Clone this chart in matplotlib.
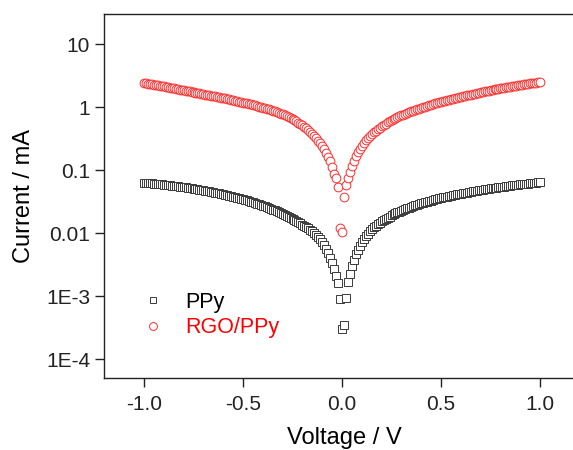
import matplotlib
matplotlib.use('agg')
import matplotlib.pyplot as plt
from matplotlib.ticker import FixedLocator, FixedFormatter, NullLocator

# Voltage sweep (V)
voltage = [
	-1.00, -0.99, -0.98, -0.97, -0.96, -0.95, -0.94, -0.93, -0.92, -0.91,
	-0.90, -0.89, -0.88, -0.87, -0.86, -0.85, -0.84, -0.83, -0.82, -0.81,
	-0.80, -0.79, -0.78, -0.77, -0.76, -0.75, -0.74, -0.73, -0.72, -0.71,
	-0.70, -0.69, -0.68, -0.67, -0.66, -0.65, -0.64, -0.63, -0.62, -0.61,
	-0.60, -0.59, -0.58, -0.57, -0.56, -0.55, -0.54, -0.53, -0.52, -0.51,
	-0.50, -0.49, -0.48, -0.47, -0.46, -0.45, -0.44, -0.43, -0.42, -0.41,
	-0.40, -0.39, -0.38, -0.37, -0.36, -0.35, -0.34, -0.33, -0.32, -0.31,
	-0.30, -0.29, -0.28, -0.27, -0.26, -0.25, -0.24, -0.23, -0.22, -0.21,
	-0.20, -0.19, -0.18, -0.17, -0.16, -0.15, -0.14, -0.13, -0.12, -0.11,
	-0.10, -0.09, -0.08, -0.07, -0.06, -0.05, -0.04, -0.03, -0.02, -0.01,
	0.00,
	0.01, 0.02, 0.03, 0.04, 0.05, 0.06, 0.07, 0.08, 0.09, 0.10,
	0.11, 0.12, 0.13, 0.14, 0.15, 0.16, 0.17, 0.18, 0.19, 0.20,
	0.21, 0.22, 0.23, 0.24, 0.25, 0.26, 0.27, 0.28, 0.29, 0.30,
	0.31, 0.32, 0.33, 0.34, 0.35, 0.36, 0.37, 0.38, 0.39, 0.40,
	0.41, 0.42, 0.43, 0.44, 0.45, 0.46, 0.47, 0.48, 0.49, 0.50,
	0.51, 0.52, 0.53, 0.54, 0.55, 0.56, 0.57, 0.58, 0.59, 0.60,
	0.61, 0.62, 0.63, 0.64, 0.65, 0.66, 0.67, 0.68, 0.69, 0.70,
	0.71, 0.72, 0.73, 0.74, 0.75, 0.76, 0.77, 0.78, 0.79, 0.80,
	0.81, 0.82, 0.83, 0.84, 0.85, 0.86, 0.87, 0.88, 0.89, 0.90,
	0.91, 0.92, 0.93, 0.94, 0.95, 0.96, 0.97, 0.98, 0.99, 1.00,
]

# Current (mA), PPy
current_ppy = [
	0.0630, 0.0626, 0.0621, 0.0617, 0.0612, 0.0608, 0.0603, 0.0599, 0.0594, 0.0590,
	0.0585, 0.0581, 0.0576, 0.0571, 0.0566, 0.0561, 0.0556, 0.0551, 0.0546, 0.0541,
	0.0536, 0.0530, 0.0524, 0.0518, 0.0512, 0.0506, 0.0500, 0.0494, 0.0488, 0.0482,
	0.0476, 0.0470, 0.0464, 0.0457, 0.0451, 0.0445, 0.0439, 0.0433, 0.0427, 0.0421,
	0.0414, 0.0407, 0.0400, 0.0393, 0.0386, 0.0380, 0.0373, 0.0366, 0.0359, 0.0352,
	0.0345, 0.0337, 0.0330, 0.0323, 0.0316, 0.0308, 0.0301, 0.0293, 0.0286, 0.0279,
	0.0272, 0.0265, 0.0258, 0.0250, 0.0243, 0.0236, 0.0229, 0.0222, 0.0215, 0.0208,
	0.0201, 0.0194, 0.0188, 0.0181, 0.0175, 0.0168, 0.0162, 0.0155, 0.0149, 0.0142,
	0.0136, 0.0130, 0.0125, 0.0119, 0.0113, 0.0106, 0.00997, 0.00928, 0.00859, 0.00790,
	0.00720, 0.00640, 0.00560, 0.00484, 0.00408, 0.00335, 0.00270, 0.00210, 0.00160, 0.00090,
	0.00030,
	0.00035, 0.00093, 0.00165, 0.00220, 0.00295, 0.00372, 0.00458, 0.00544, 0.00632, 0.00720,
	0.00810, 0.00900, 0.00980, 0.0106, 0.0115, 0.0123, 0.0131, 0.0139, 0.0147, 0.0154,
	0.0162, 0.0169, 0.0176, 0.0183, 0.0191, 0.0198, 0.0205, 0.0212, 0.0219, 0.0226,
	0.0233, 0.0240, 0.0247, 0.0254, 0.0261, 0.0267, 0.0274, 0.0281, 0.0288, 0.0295,
	0.0302, 0.0308, 0.0315, 0.0321, 0.0328, 0.0334, 0.0341, 0.0347, 0.0354, 0.0360,
	0.0367, 0.0373, 0.0379, 0.0385, 0.0392, 0.0398, 0.0404, 0.0410, 0.0416, 0.0422,
	0.0428, 0.0434, 0.0440, 0.0446, 0.0452, 0.0458, 0.0464, 0.0470, 0.0476, 0.0482,
	0.0488, 0.0493, 0.0498, 0.0504, 0.0510, 0.0516, 0.0521, 0.0527, 0.0533, 0.0538,
	0.0543, 0.0548, 0.0554, 0.0559, 0.0565, 0.0570, 0.0575, 0.0580, 0.0585, 0.0590,
	0.0596, 0.0601, 0.0606, 0.0611, 0.0616, 0.0621, 0.0626, 0.0630, 0.0635, 0.0640,
]

# Current (mA), RGO/PPy
current_rgo = [
	2.40, 2.37, 2.35, 2.32, 2.29, 2.27, 2.24, 2.22, 2.19, 2.15,
	2.12, 2.10, 2.07, 2.04, 2.01, 1.99, 1.96, 1.92, 1.89, 1.86,
	1.84, 1.81, 1.79, 1.77, 1.75, 1.72, 1.70, 1.68, 1.66, 1.63,
	1.61, 1.58, 1.56, 1.54, 1.52, 1.50, 1.48, 1.45, 1.43, 1.41,
	1.39, 1.37, 1.35, 1.32, 1.30, 1.28, 1.26, 1.24, 1.22, 1.20,
	1.18, 1.16, 1.14, 1.12, 1.10, 1.08, 1.06, 1.04, 1.02, 1.00,
	0.980, 0.960, 0.939, 0.918, 0.896, 0.875, 0.853, 0.832, 0.810, 0.788,
	0.765, 0.741, 0.717, 0.693, 0.668, 0.644, 0.619, 0.594, 0.568, 0.542,
	0.516, 0.489, 0.461, 0.433, 0.405, 0.377, 0.349, 0.321, 0.293, 0.266,
	0.240, 0.214, 0.188, 0.163, 0.138, 0.112, 0.088, 0.075, 0.054, 0.0120,
	0.0104,
	0.037, 0.058, 0.075, 0.092, 0.116, 0.141, 0.166, 0.192, 0.218, 0.245,
	0.270, 0.295, 0.320, 0.346, 0.371, 0.397, 0.421, 0.446, 0.471, 0.496,
	0.521, 0.546, 0.570, 0.593, 0.618, 0.642, 0.666, 0.689, 0.712, 0.735,
	0.760, 0.784, 0.807, 0.830, 0.854, 0.878, 0.900, 0.923, 0.945, 0.968,
	0.992, 1.02, 1.04, 1.06, 1.09, 1.11, 1.14, 1.16, 1.19, 1.21,
	1.23, 1.26, 1.28, 1.31, 1.33, 1.36, 1.38, 1.41, 1.43, 1.46,
	1.48, 1.51, 1.53, 1.56, 1.58, 1.61, 1.64, 1.66, 1.69, 1.72,
	1.74, 1.77, 1.79, 1.82, 1.85, 1.87, 1.90, 1.93, 1.95, 1.98,
	2.00, 2.03, 2.05, 2.08, 2.11, 2.14, 2.16, 2.19, 2.21, 2.24,
	2.26, 2.29, 2.32, 2.35, 2.37, 2.40, 2.42, 2.45, 2.47, 2.50,
]

y_ticks = [1e-4, 1e-3, 1e-2, 1e-1, 1, 10]
y_tick_labels = ['1E-4', '1E-3', '0.01', '0.1', '1', '10']
x_ticks = [-1.0, -0.5, 0.0, 0.5, 1.0]
x_tick_labels = ['-1.0', '-0.5', '0.0', '0.5', '1.0']

plt.rcParams['font.family'] = ['Liberation Sans', 'DejaVu Sans']

fig = plt.figure(figsize=(5.73, 4.5), dpi=100)
# the original is cut off on the right, so no right spine shows
ax = fig.add_axes([104 / 573, 72 / 450, 481 / 573, 364 / 450])

ax.plot(voltage, current_ppy, linestyle='none', marker='s', markersize=5.2,
	markerfacecolor='white', markeredgecolor='#3a3a3a', markeredgewidth=0.7, label='PPy')
ax.plot(voltage, current_rgo, linestyle='none', marker='o', markersize=6.3,
	markerfacecolor='white', markeredgecolor='#ff2a2a', markeredgewidth=0.7, label='RGO/PPy')

ax.set_yscale('log')
ax.set_xlim(-1.202, 1.227)
ax.set_ylim(5e-5, 30)

ax.yaxis.set_major_locator(FixedLocator(y_ticks))
ax.yaxis.set_major_formatter(FixedFormatter(y_tick_labels))
ax.yaxis.set_minor_locator(NullLocator())
ax.xaxis.set_major_locator(FixedLocator(x_ticks))
ax.xaxis.set_major_formatter(FixedFormatter(x_tick_labels))

ax.tick_params(axis='both', direction='out', length=6.5, width=1.0, labelsize=15, colors='#222222')
ax.tick_params(axis='x', pad=6)
for spine in ax.spines.values():
	spine.set_linewidth(1.0)
	spine.set_color('#222222')
ax.spines['right'].set_visible(False)

ax.set_xlabel('Voltage / V', fontsize=17, labelpad=9)
ax.set_ylabel('Current / mA', fontsize=17, labelpad=8)

leg = ax.legend(loc='center left', bbox_to_anchor=(0.08, 0.173), frameon=False,
	fontsize=15.5, handlelength=1.0, handletextpad=1.0, borderpad=0, borderaxespad=0,
	labelspacing=0.2, markerscale=0.9)
leg.get_texts()[1].set_color('red')

fig.savefig('out.png', dpi=100)
